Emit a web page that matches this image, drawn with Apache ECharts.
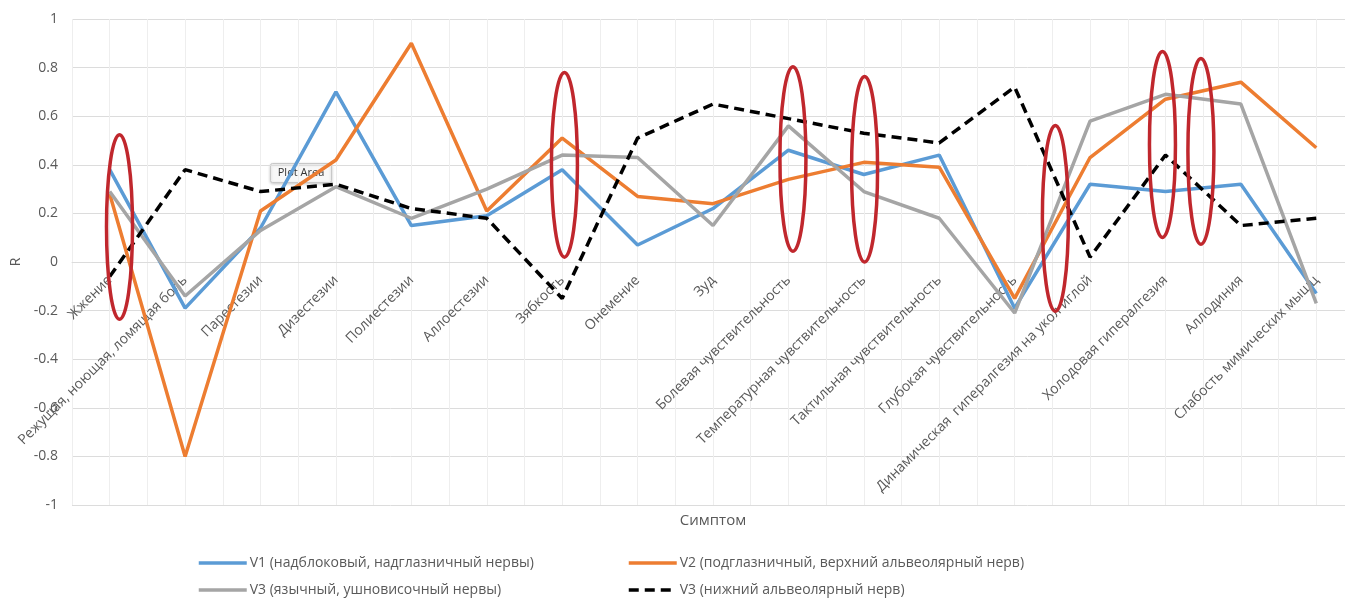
<!DOCTYPE html>
<html>
<head>
<meta charset="utf-8">
<script src="https://cdn.jsdelivr.net/npm/echarts@6.0.0/dist/echarts.min.js"></script>
<style>
  html, body { margin: 0; padding: 0; background: #ffffff; }
  #chart { width: 1345px; height: 599px; }
</style>
</head>
<body>
<div id="chart"></div>
<script>
// Symptoms along the category axis
const symptoms = [
  'Жжение',
  'Режущая, ноющая, ломящая боль',
  'Парестезии',
  'Дизестезии',
  'Полиестезии',
  'Аллоестезии',
  'Зябкость',
  'Онемение',
  'Зуд',
  'Болевая чувствительность',
  'Температурная чувствительность',
  'Тактильная чувствительность',
  'Глубокая чувствительность',
  'Динамическая  гипералгезия на укол иглой',
  'Холодовая гипералгезия',
  'Аллодиния',
  'Слабость мимических мышц'
];

// Series names
const nameV1 = 'V1 (надблоковый, надглазничный нервы)';
const nameV2 = 'V2 (подглазничный, верхний альвеолярный нерв)';
const nameV3a = 'V3 (язычный, ушновисочный нервы)';
const nameV3b = 'V3 (нижний альвеолярный нерв)';

// Correlation coefficients R per symptom
const v1Values  = [0.38, -0.19, 0.14, 0.70, 0.15, 0.19, 0.38, 0.07, 0.22, 0.46, 0.36, 0.44, -0.19, 0.32, 0.29, 0.32, -0.13];
const v2Values  = [0.28, -0.80, 0.21, 0.42, 0.90, 0.21, 0.51, 0.27, 0.24, 0.34, 0.41, 0.39, -0.15, 0.43, 0.67, 0.74, 0.47];
const v3aValues = [0.29, -0.14, 0.13, 0.31, 0.18, 0.30, 0.44, 0.43, 0.15, 0.56, 0.29, 0.18, -0.21, 0.58, 0.69, 0.65, -0.17];
const v3bValues = [-0.06, 0.38, 0.29, 0.32, 0.22, 0.18, -0.15, 0.51, 0.65, 0.59, 0.53, 0.49, 0.72, 0.02, 0.44, 0.15, 0.18];

// Highlight ovals: [category position, upper R, lower R]
const highlightOvals = [
  [0.13, 0.524, -0.236],
  [6.03, 0.78, 0.02],
  [9.06, 0.804, 0.044],
  [10.01, 0.763, 0.0],
  [12.54, 0.562, -0.203],
  [13.96, 0.866, 0.101],
  [14.47, 0.837, 0.073]
];

// Y axis range
const yMin = -1, yMax = 1, yStep = 0.2;

const FONT = '"Open Sans", "DejaVu Sans", sans-serif';
const TEXT = '#595959';

// Plot box
const PLOT_LEFT = 72, PLOT_TOP = 19, PLOT_W = 1282, PLOT_H = 486;

const chart = echarts.init(document.getElementById('chart'), null, { renderer: 'canvas' });

function lineSeries(name, data, color, dashed) {
  return {
    name: name,
    type: 'line',
    data: data,
    xAxisIndex: 0,
    yAxisIndex: 0,
    symbol: 'none',
    showSymbol: false,
    smooth: false,
    lineStyle: {
      color: color,
      width: 3.5,
      type: dashed ? [10, 6] : 'solid',
      cap: 'butt'
    },
    itemStyle: { color: color },
    emphasis: { disabled: true },
    z: 3
  };
}

function legendAt(name, left, top) {
  return {
    data: [name],
    left: left,
    top: top,
    padding: 0,
    orient: 'horizontal',
    itemWidth: 48,
    itemHeight: 14,
    itemGap: 4,
    selectedMode: false,
    itemStyle: { opacity: 0 },
    lineStyle: { width: 3.5 },
    textStyle: { color: TEXT, fontSize: 14, fontFamily: FONT, padding: [0, 0, 0, -2] }
  };
}

// the category axis crosses the value axis at R = 0
const zeroOffset = -PLOT_H * (0 - yMin) / (yMax - yMin);

const option = {
  animation: false,
  backgroundColor: '#ffffff',
  textStyle: { fontFamily: FONT },
  grid: {
    left: PLOT_LEFT, top: PLOT_TOP, width: PLOT_W, height: PLOT_H,
    containLabel: false,
    outerBoundsMode: 'none'
  },
  legend: [
    legendAt(nameV1, 197, 556),
    legendAt(nameV2, 627, 556),
    legendAt(nameV3a, 197, 583),
    legendAt(nameV3b, 627, 583)
  ],
  xAxis: [
    {
      type: 'category',
      data: symptoms,
      boundaryGap: true,
      position: 'bottom',
      offset: zeroOffset,
      name: 'Симптом',
      nameLocation: 'middle',
      nameGap: 251,
      nameTextStyle: { color: TEXT, fontSize: 15, fontFamily: FONT },
      axisLine: { show: true, onZero: false, lineStyle: { color: '#dcdcdc', width: 1 } },
      axisTick: { show: false },
      splitLine: { show: false },
      axisLabel: {
        interval: 0,
        rotate: 45,
        margin: 16,
        color: TEXT,
        fontSize: 14,
        fontFamily: FONT
      }
    },
    {
      // half-category grid used for the vertical gridlines and ovals
      type: 'value',
      position: 'top',
      min: 0,
      max: symptoms.length * 2,
      interval: 1,
      axisLine: { show: false, onZero: false },
      axisTick: { show: false },
      axisLabel: { show: false },
      splitLine: { show: true, lineStyle: { color: '#eeeeee', width: 1 } }
    }
  ],
  yAxis: {
    type: 'value',
    min: yMin,
    max: yMax,
    interval: yStep,
    name: 'R',
    nameLocation: 'middle',
    nameGap: 47,
    nameRotate: 90,
    nameTextStyle: { color: TEXT, fontSize: 14, fontFamily: FONT },
    axisLine: { show: false, onZero: false },
    axisTick: { show: false },
    axisLabel: {
      margin: 14,
      color: TEXT,
      fontSize: 14,
      fontFamily: FONT,
      formatter: function (v) { return String(+v.toFixed(1)); }
    },
    splitLine: { show: true, lineStyle: { color: '#dcdcdc', width: 1 } }
  },
  series: [
    lineSeries(nameV1, v1Values, '#5B9BD5', false),
    lineSeries(nameV2, v2Values, '#ED7D31', false),
    lineSeries(nameV3a, v3aValues, '#A5A5A5', false),
    lineSeries(nameV3b, v3bValues, '#000000', true),
    {
      name: 'ovals',
      type: 'custom',
      xAxisIndex: 1,
      yAxisIndex: 0,
      data: highlightOvals.map(function (o) { return [o[0] * 2 + 1, o[1], o[2]]; }),
      encode: { x: 0, y: [1, 2] },
      z: 5,
      silent: true,
      renderItem: function (params, api) {
        const top = api.coord([api.value(0), api.value(1)]);
        const bottom = api.coord([api.value(0), api.value(2)]);
        return {
          type: 'ellipse',
          shape: {
            cx: top[0],
            cy: (top[1] + bottom[1]) / 2,
            rx: 13,
            ry: (bottom[1] - top[1]) / 2
          },
          style: { fill: null, stroke: '#C0272D', lineWidth: 3.5 }
        };
      }
    }
  ],
  graphic: [
    {
      type: 'group',
      left: 270,
      top: 163,
      z: 20,
      children: [
        {
          type: 'rect',
          shape: { x: 0, y: 0, width: 61, height: 19, r: 2 },
          style: {
            fill: '#f8f8f8',
            stroke: '#c8c8c8',
            lineWidth: 1,
            shadowBlur: 3,
            shadowColor: 'rgba(0,0,0,0.2)',
            shadowOffsetY: 1
          }
        },
        {
          type: 'text',
          x: 30.5,
          y: 9.5,
          style: {
            text: 'Plot Area',
            fill: '#333333',
            font: '11px ' + FONT,
            align: 'center',
            verticalAlign: 'middle'
          }
        }
      ]
    }
  ]
};

chart.setOption(option);
</script>
</body>
</html>
